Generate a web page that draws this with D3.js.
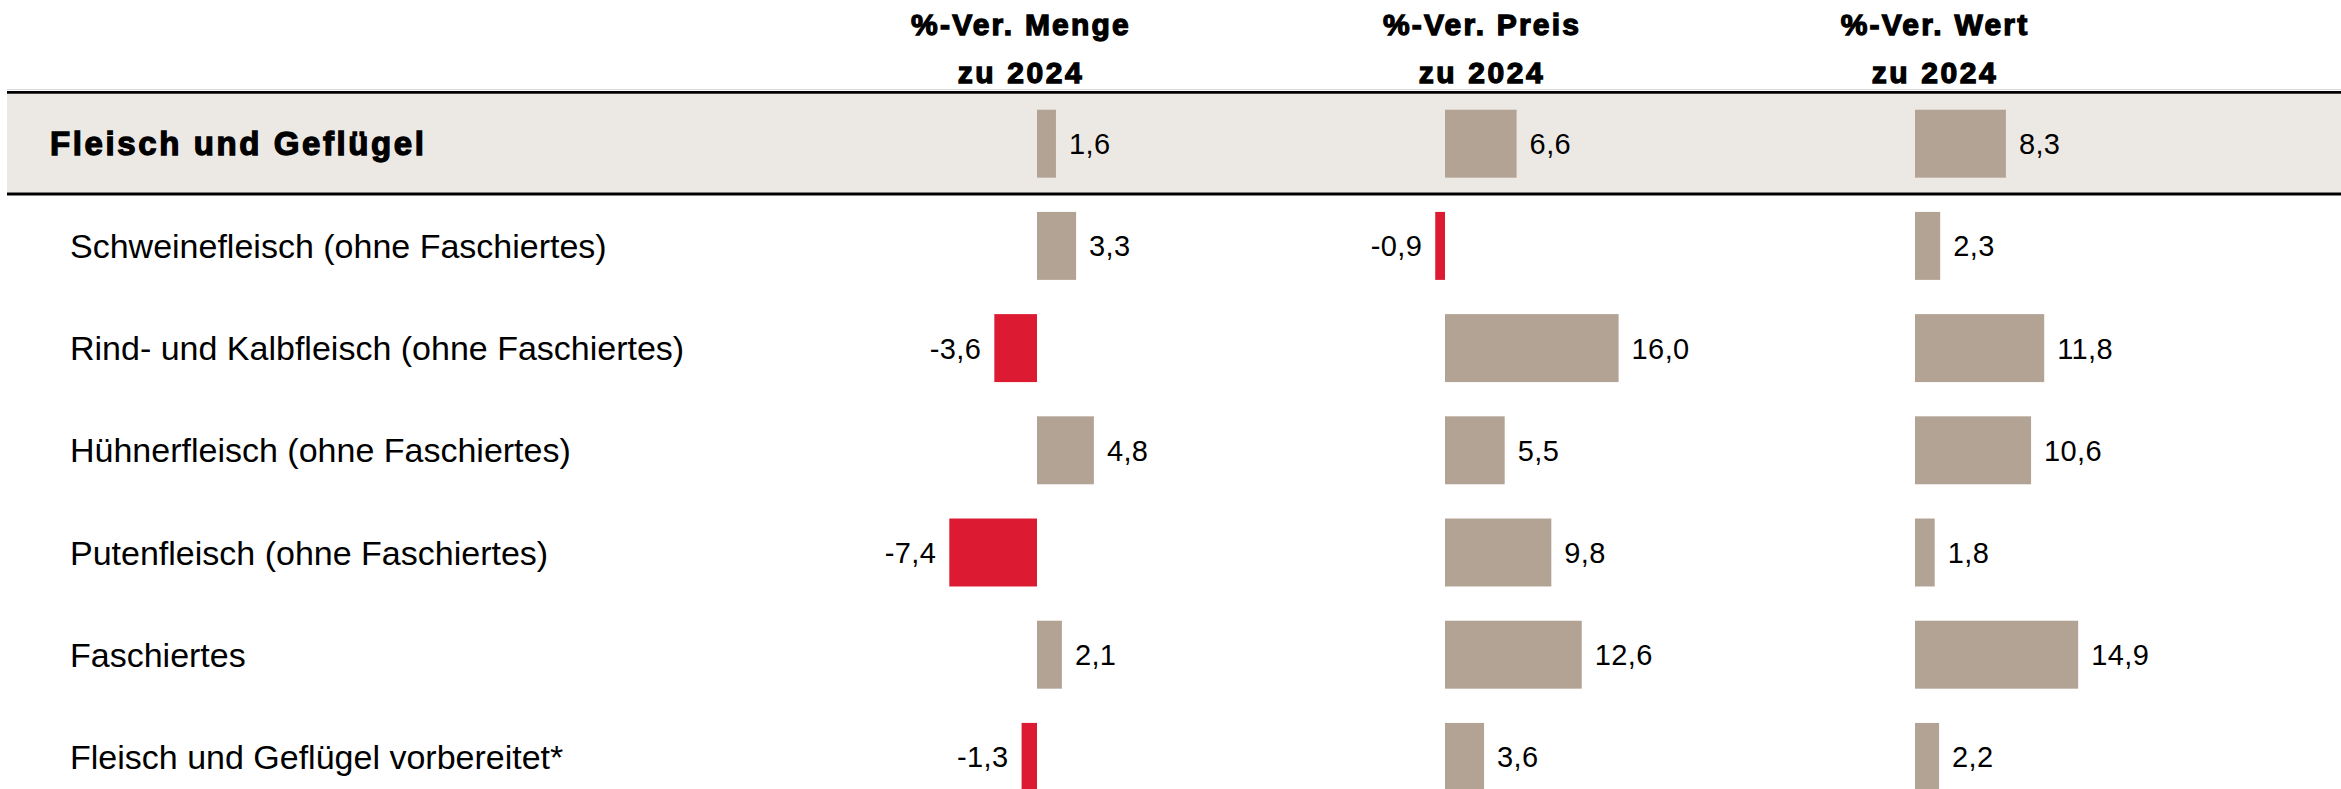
<!DOCTYPE html>
<html>
<head>
<meta charset="utf-8">
<script src="https://cdn.jsdelivr.net/npm/d3@7"></script>
<style>
    body { margin: 0; background: #fff; }
    svg { display: block; }
</style>
</head>
<body>
<div id="chart"></div>
<script>
// Fleisch und Geflügel: Veränderung zu 2024 in %

const rowLabels =
[
    "Fleisch und Geflügel",
    "Schweinefleisch (ohne Faschiertes)",
    "Rind- und Kalbfleisch (ohne Faschiertes)",
    "Hühnerfleisch (ohne Faschiertes)",
    "Putenfleisch (ohne Faschiertes)",
    "Faschiertes",
    "Fleisch und Geflügel vorbereitet*"
];

const menge = [1.6, 3.3, -3.6, 4.8, -7.4, 2.1, -1.3];
const preis = [6.6, -0.9, 16.0, 5.5, 9.8, 12.6, 3.6];
const wert = [8.3, 2.3, 11.8, 10.6, 1.8, 14.9, 2.2];

const colTitles = ["%-Ver. Menge", "%-Ver. Preis", "%-Ver. Wert"];
const colSubtitles = ["zu 2024", "zu 2024", "zu 2024"];

const colors = {
    pos: "#b3a394",
    neg: "#dc1a31",
    band: "#ece9e5",
    line: "#000000"
};

const width = 2341,
    height = 789;

// comma decimal, plain hyphen for negatives
const fmt = d3.formatLocale({
    decimal: ",",
    thousands: ".",
    grouping: [3],
    currency: ["", " €"],
    minus: "-"
}).format(".1f");

let svg = d3.select("#chart").
append("svg").
attr("width", width).
attr("height", height);

// rows
let yScale = d3.scaleBand().
domain(rowLabels).
range([92.6, 92.6 + rowLabels.length * 102.2]).
paddingInner(0.335).
paddingOuter(0.1675);

const rowMid = d => yScale(d) + yScale.bandwidth() / 2;

// grey band behind the total row + rules
svg.append("rect").
attr("x", 7).
attr("y", 93.7).
attr("width", width - 7).
attr("height", 99).
style("fill", colors.band);

svg.append("line").
attr("x1", 7).attr("x2", width).
attr("y1", 89.5).attr("y2", 89.5).
style("stroke", "#d6d6d6").
style("stroke-width", 1);

[92.3, 194].forEach(y => {
    svg.append("line").
    attr("x1", 7).attr("x2", width).
    attr("y1", y).attr("y2", y).
    style("stroke", colors.line).
    style("stroke-width", 2.8);
});

// row labels
svg.selectAll(".row-label").
data(rowLabels).
enter().
append("text").
attr("class", "row-label").
attr("x", (d, i) => i === 0 ? 50 : 70).
attr("y", (d, i) => rowMid(d) + (i === 0 ? 11.5 : 12)).
style("font-family", "'Liberation Sans', Arial, sans-serif").
style("font-size", (d, i) => i === 0 ? "33px" : "34px").
style("font-weight", (d, i) => i === 0 ? "bold" : "normal").
style("letter-spacing", (d, i) => i === 0 ? "2.6px" : "0px").
style("stroke", (d, i) => i === 0 ? "#000" : "none").
style("stroke-width", 1.3).
style("fill", "#000").
text(d => d);

// the three columns, each with its own scale
const columns =
[
    { values: menge, zero: 1037, k: 11.85, titleX: 1021 },
    { values: preis, zero: 1445, k: 10.85, titleX: 1482 },
    { values: wert, zero: 1915, k: 10.95, titleX: 1935 }
];

columns.forEach((col, ci) => {
    let xScale = d3.scaleLinear().
    domain([-10, 10]).
    range([col.zero - 10 * col.k, col.zero + 10 * col.k]);

    let g = svg.append("g").attr("class", "col-" + ci);

    // header
    g.append("text").
    attr("x", col.titleX).
    attr("y", 35).
    attr("text-anchor", "middle").
    style("font-family", "'Liberation Sans', Arial, sans-serif").
    style("font-size", "30px").
    style("font-weight", "bold").
    style("letter-spacing", "2.2px").
    style("stroke", "#000").
    style("stroke-width", 1.3).
    text(colTitles[ci]);

    g.append("text").
    attr("x", col.titleX).
    attr("y", 83).
    attr("text-anchor", "middle").
    style("font-family", "'Liberation Sans', Arial, sans-serif").
    style("font-size", "30px").
    style("font-weight", "bold").
    style("letter-spacing", "2.6px").
    style("stroke", "#000").
    style("stroke-width", 1.3).
    text(colSubtitles[ci]);

    let data = col.values.map((v, i) => ({ label: rowLabels[i], v: v }));

    g.selectAll("rect").
    data(data).
    enter().
    append("rect").
    attr("x", d => Math.min(xScale(0), xScale(d.v))).
    attr("y", d => yScale(d.label)).
    attr("width", d => Math.abs(xScale(d.v) - xScale(0))).
    attr("height", yScale.bandwidth()).
    style("fill", d => d.v < 0 ? colors.neg : colors.pos);

    g.selectAll(".val").
    data(data).
    enter().
    append("text").
    attr("class", "val").
    attr("x", d => d.v < 0 ? xScale(d.v) - 13 : xScale(d.v) + 13).
    attr("y", (d, i) => rowMid(d.label) + 10.5).
    attr("text-anchor", d => d.v < 0 ? "end" : "start").
    style("font-family", "'Liberation Sans', Arial, sans-serif").
    style("font-size", "29px").
    style("letter-spacing", "0.4px").
    style("fill", "#000").
    text(d => fmt(d.v));
});
</script>
</body>
</html>
